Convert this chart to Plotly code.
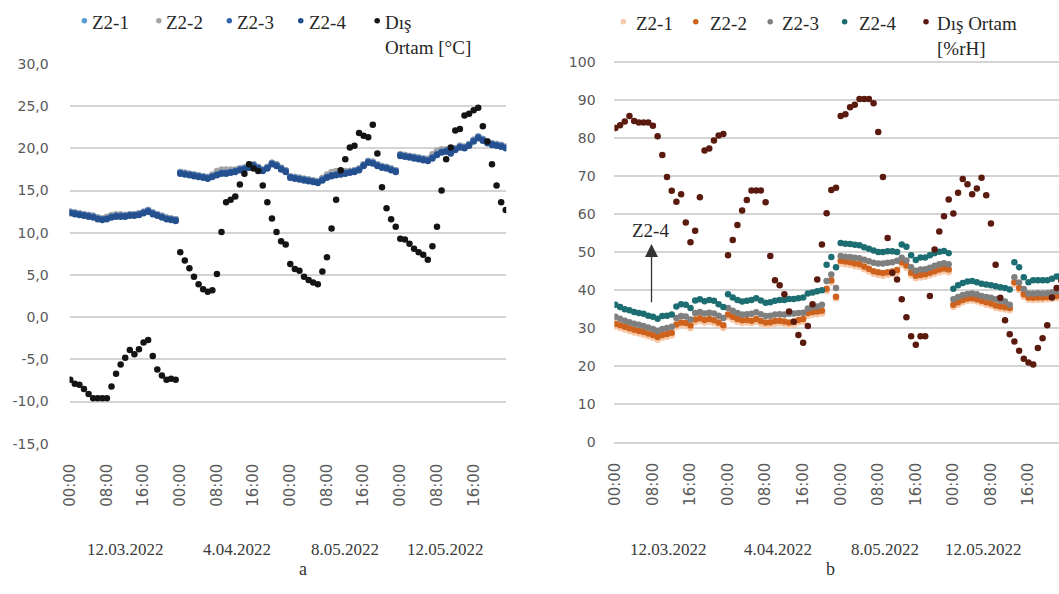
import plotly.graph_objects as go

W, H = 1059, 594

# ---- categories -------------------------------------------------------------
days = ["12.03.2022", "4.04.2022", "8.05.2022", "12.05.2022"]
hour_labels = ["00:00", "08:00", "16:00"]
hours = list(range(96))          # hourly samples, 24 per measurement day
zones = ["Z2-1", "Z2-2", "Z2-3", "Z2-4"]

# ---- (a) temperature, °C ------------------------------------------------------
temp_z21 = ([12.5, 12.4, 12.3, 12.2, 12.1, 12.0, 11.8, 11.7, 11.8, 12.0, 12.1, 12.1, 12.1, 12.2, 12.2, 12.3, 12.5, 12.7, 12.4, 12.2, 12.0, 11.8, 11.7, 11.6]
            + [17.2, 17.1, 17.0, 16.9, 16.8, 16.7, 16.6, 16.8, 17.0, 17.2, 17.2, 17.3, 17.4, 17.6, 17.7, 17.9, 18.1, 17.8, 17.5, 17.8, 18.3, 18.1, 17.7, 17.4]
            + [16.7, 16.6, 16.5, 16.4, 16.3, 16.2, 16.1, 16.4, 16.7, 16.9, 17.0, 17.1, 17.2, 17.3, 17.4, 17.6, 18.1, 18.5, 18.4, 18.1, 17.9, 17.8, 17.6, 17.4]
            + [19.3, 19.2, 19.1, 19.0, 18.9, 18.8, 18.7, 19.0, 19.4, 19.7, 19.8, 19.6, 20.0, 20.3, 20.2, 20.5, 21.0, 21.4, 21.1, 20.8, 20.6, 20.5, 20.4, 20.2])
temp_z22 = ([12.5, 12.4, 12.3, 12.2, 12.1, 12.0, 11.8, 11.7, 11.9, 12.1, 12.2, 12.2, 12.1, 12.2, 12.2, 12.3, 12.5, 12.7, 12.4, 12.2, 12.0, 11.8, 11.7, 11.6]
            + [17.2, 17.1, 17.0, 16.9, 16.8, 16.7, 16.6, 16.9, 17.3, 17.5, 17.5, 17.5, 17.5, 17.6, 17.7, 17.9, 18.1, 17.8, 17.5, 17.8, 18.3, 18.1, 17.7, 17.4]
            + [16.7, 16.6, 16.5, 16.4, 16.3, 16.2, 16.1, 16.5, 16.9, 17.2, 17.3, 17.3, 17.3, 17.3, 17.4, 17.6, 18.1, 18.5, 18.4, 18.1, 17.9, 17.8, 17.6, 17.4]
            + [19.3, 19.2, 19.1, 19.0, 18.9, 18.8, 18.8, 19.3, 19.7, 19.9, 19.9, 19.7, 20.0, 20.3, 20.2, 20.5, 21.0, 21.4, 21.1, 20.8, 20.6, 20.5, 20.4, 20.2])
temp_z23 = ([12.4, 12.3, 12.2, 12.1, 12.0, 11.9, 11.7, 11.6, 11.7, 11.9, 12.0, 12.0, 12.0, 12.1, 12.1, 12.2, 12.4, 12.6, 12.3, 12.1, 11.9, 11.7, 11.6, 11.5]
            + [17.1, 17.0, 16.9, 16.8, 16.7, 16.6, 16.5, 16.7, 16.9, 17.1, 17.1, 17.2, 17.3, 17.5, 17.6, 17.8, 18.0, 17.7, 17.4, 17.7, 18.2, 18.0, 17.6, 17.3]
            + [16.6, 16.5, 16.4, 16.3, 16.2, 16.1, 16.0, 16.3, 16.6, 16.8, 16.9, 17.0, 17.1, 17.2, 17.3, 17.5, 18.0, 18.4, 18.3, 18.0, 17.8, 17.7, 17.5, 17.3]
            + [19.2, 19.1, 19.0, 18.9, 18.8, 18.7, 18.6, 18.9, 19.3, 19.6, 19.7, 19.5, 19.9, 20.2, 20.1, 20.4, 20.9, 21.3, 21.0, 20.7, 20.5, 20.4, 20.3, 20.1])
temp_z24 = ([12.3, 12.2, 12.1, 12.0, 11.9, 11.8, 11.6, 11.5, 11.6, 11.8, 11.9, 11.9, 11.9, 12.0, 12.0, 12.1, 12.3, 12.5, 12.2, 12.0, 11.8, 11.6, 11.5, 11.4]
            + [17.0, 16.9, 16.8, 16.7, 16.6, 16.5, 16.4, 16.6, 16.8, 17.0, 17.0, 17.1, 17.2, 17.4, 17.5, 17.7, 17.9, 17.6, 17.3, 17.6, 18.1, 17.9, 17.5, 17.2]
            + [16.5, 16.4, 16.3, 16.2, 16.1, 16.0, 15.9, 16.2, 16.5, 16.7, 16.8, 16.9, 17.0, 17.1, 17.2, 17.4, 17.9, 18.3, 18.2, 17.9, 17.7, 17.6, 17.4, 17.2]
            + [19.1, 19.0, 18.9, 18.8, 18.7, 18.6, 18.5, 18.8, 19.2, 19.5, 19.6, 19.4, 19.8, 20.1, 20.0, 20.3, 20.8, 21.2, 20.9, 20.6, 20.4, 20.3, 20.2, 20.0])
temp_out = ([-7.4, -7.9, -8.0, -8.5, -9.1, -9.6, -9.6, -9.6, -9.6, -8.2, -6.7, -5.6, -4.8, -3.9, -4.4, -3.8, -3.0, -2.7, -4.6, -6.2, -6.9, -7.4, -7.3, -7.4]
            + [7.7, 6.7, 5.8, 4.8, 3.9, 3.3, 3.0, 3.2, 5.1, 10.1, 13.6, 13.9, 14.3, 15.7, 17.0, 18.1, 17.6, 17.3, 15.6, 13.6, 11.7, 10.1, 9.0, 8.6]
            + [6.3, 5.7, 5.5, 4.8, 4.4, 4.1, 3.9, 5.4, 7.1, 10.5, 13.9, 17.4, 18.7, 20.1, 20.3, 21.8, 21.5, 21.3, 22.8, 19.4, 15.4, 12.9, 11.6, 10.7]
            + [9.3, 9.2, 8.7, 8.1, 7.7, 7.4, 6.8, 8.4, 10.7, 15.0, 18.7, 20.1, 22.1, 22.3, 23.9, 24.1, 24.5, 24.8, 22.6, 20.8, 18.1, 15.6, 13.6, 12.7])
temp_ticks = [-15, -10, -5, 0, 5, 10, 15, 20, 25, 30]

# ---- (b) relative humidity, %rH ----------------------------------------------
rh_z21 = ([30.5, 30.1, 29.7, 29.3, 28.9, 28.6, 28.3, 27.9, 27.5, 27.0, 27.5, 27.8, 28.1, 30.3, 30.8, 30.7, 30.0, 31.6, 31.9, 31.5, 31.7, 31.4, 30.8, 30.1]
          + [32.9, 32.3, 31.7, 31.4, 31.5, 31.3, 31.7, 31.2, 30.8, 30.9, 31.2, 31.3, 31.1, 30.8, 31.0, 31.5, 31.7, 33.3, 33.6, 33.7, 33.9, 39.8, 42.0, 37.8]
          + [47.0, 46.8, 46.6, 46.3, 46.1, 45.5, 44.9, 44.3, 44.0, 43.8, 44.0, 44.2, 44.6, 46.6, 45.8, 43.9, 43.1, 43.3, 43.5, 43.9, 44.3, 44.7, 45.0, 44.7]
          + [35.6, 36.2, 36.8, 37.2, 37.3, 37.0, 36.6, 36.2, 35.9, 35.4, 35.1, 34.9, 34.7, 41.5, 40.0, 38.3, 37.5, 37.4, 37.5, 37.5, 37.6, 37.7, 37.9, 38.2])
rh_z22 = ([31.2, 30.8, 30.4, 30.0, 29.6, 29.3, 29.0, 28.6, 28.2, 27.7, 28.2, 28.5, 28.8, 31.0, 31.5, 31.4, 30.7, 32.3, 32.6, 32.2, 32.4, 32.1, 31.5, 30.8]
          + [33.6, 33.0, 32.4, 32.1, 32.2, 32.0, 32.4, 31.9, 31.5, 31.6, 31.9, 32.0, 31.8, 31.5, 31.7, 32.2, 32.4, 34.0, 34.3, 34.4, 34.6, 40.4, 42.6, 38.3]
          + [47.7, 47.5, 47.3, 47.0, 46.8, 46.2, 45.6, 45.0, 44.7, 44.5, 44.7, 44.9, 45.3, 47.3, 46.5, 44.6, 43.8, 44.0, 44.2, 44.6, 45.0, 45.4, 45.7, 45.4]
          + [36.2, 36.8, 37.4, 37.8, 37.9, 37.6, 37.2, 36.8, 36.5, 36.0, 35.7, 35.5, 35.3, 42.1, 40.6, 38.9, 38.1, 38.0, 38.1, 38.1, 38.2, 38.3, 38.5, 38.8])
rh_z23 = ([33.0, 32.5, 32.0, 31.6, 31.2, 30.9, 30.6, 30.2, 29.8, 29.3, 29.8, 30.1, 30.4, 32.7, 33.2, 33.1, 32.3, 34.0, 34.3, 33.9, 34.1, 33.9, 33.3, 32.7]
          + [35.3, 34.6, 34.0, 33.6, 33.7, 33.8, 34.2, 33.7, 33.2, 33.3, 33.6, 33.7, 33.6, 33.8, 33.9, 34.0, 34.1, 35.2, 35.5, 35.7, 36.2, 42.4, 44.1, 40.6]
          + [49.0, 48.8, 48.7, 48.5, 48.4, 48.0, 47.6, 47.2, 47.0, 47.0, 47.2, 47.3, 47.7, 48.5, 47.8, 46.0, 45.1, 45.4, 45.5, 45.9, 46.4, 46.8, 47.1, 46.8]
          + [37.6, 38.2, 38.7, 39.0, 39.1, 38.9, 38.5, 38.2, 38.0, 37.6, 37.2, 37.0, 36.2, 43.4, 42.0, 40.3, 39.1, 39.1, 39.2, 39.1, 39.2, 39.4, 39.7, 40.0])
rh_z24 = ([36.2, 35.6, 35.0, 34.7, 34.3, 34.0, 33.8, 33.3, 33.0, 32.5, 33.2, 33.3, 33.6, 35.7, 36.3, 36.2, 35.3, 37.3, 37.6, 37.1, 37.4, 37.2, 36.3, 35.6]
          + [38.9, 38.1, 37.4, 37.0, 37.2, 37.4, 37.9, 37.3, 36.7, 36.8, 37.2, 37.4, 37.4, 37.7, 37.7, 37.9, 38.1, 39.1, 39.4, 39.7, 40.0, 46.7, 48.7, 46.0]
          + [52.4, 52.2, 52.1, 51.9, 51.8, 51.3, 50.9, 50.4, 50.0, 50.0, 50.2, 50.2, 50.0, 52.0, 51.4, 49.2, 47.9, 48.6, 48.6, 49.2, 49.7, 50.1, 50.3, 49.7]
          + [40.4, 41.3, 41.9, 42.3, 42.4, 42.1, 41.7, 41.5, 41.3, 41.0, 40.8, 40.6, 40.2, 47.3, 46.0, 43.4, 42.1, 42.6, 42.6, 42.6, 42.6, 43.0, 43.6, 44.0])
rh_out = ([82.6, 83.3, 84.3, 85.7, 84.4, 84.0, 84.0, 84.0, 83.2, 80.4, 75.5, 69.7, 66.1, 63.2, 65.2, 57.8, 52.6, 55.6, 64.4, 76.7, 77.2, 79.3, 80.6, 81.0]
          + [49.2, 53.2, 57.1, 60.9, 63.7, 66.2, 66.2, 66.2, 63.1, 49.0, 42.6, 41.3, 38.9, 34.4, 31.7, 28.2, 26.2, 30.6, 36.3, 42.8, 52.0, 60.2, 66.3, 66.9]
          + [85.7, 86.2, 88.0, 88.7, 90.2, 90.2, 90.2, 89.1, 81.5, 69.7, 53.7, 44.6, 42.8, 37.6, 32.9, 27.9, 25.7, 27.9, 27.9, 38.5, 50.7, 55.4, 59.4, 63.8]
          + [60.1, 65.6, 69.2, 67.8, 65.2, 66.7, 69.5, 64.9, 57.5, 46.7, 38.0, 32.1, 28.4, 26.5, 24.1, 22.0, 21.0, 20.5, 24.8, 27.4, 30.8, 38.1, 40.6, 42.5])
rh_ticks = [0, 10, 20, 30, 40, 50, 60, 70, 80, 90, 100]

out_t_label = "Dış<br>Ortam [°C]"
out_rh_label = "Dış Ortam<br>[%rH]"

# ---- styling ------------------------------------------------------------------
temp_colors = ["#5b9bd5", "#a5a5a5", "#3366b0", "#24508f"]
temp_out_color = "#141414"
rh_colors = ["#f7c9a8", "#cf621c", "#7f7f7f", "#1d6e72"]
rh_out_color = "#5a1a0e"
MS = 6.5

SANS = "DejaVu Sans"
SERIF = "Liberation Serif"
tick_font = dict(family=SANS, size=14, color="#595959")
xtick_font = dict(family=SANS, size=15, color="#595959")
grid_col = "#d4d4d4"


def px_x(p):
    return p / W


def px_y(p):
    return 1 - p / H


fig = go.Figure()

for vals, col in zip([temp_z21, temp_z22, temp_z23, temp_z24], temp_colors):
    fig.add_trace(go.Scatter(x=hours, y=vals, mode="markers", xaxis="x", yaxis="y",
                             marker=dict(size=MS, color=col), hoverinfo="skip"))
fig.add_trace(go.Scatter(x=hours, y=temp_out, mode="markers", xaxis="x", yaxis="y",
                         marker=dict(size=MS, color=temp_out_color), hoverinfo="skip"))

for vals, col in zip([rh_z21, rh_z22, rh_z23, rh_z24], rh_colors):
    fig.add_trace(go.Scatter(x=hours, y=vals, mode="markers", xaxis="x2", yaxis="y2",
                             marker=dict(size=MS, color=col), hoverinfo="skip"))
fig.add_trace(go.Scatter(x=hours, y=rh_out, mode="markers", xaxis="x2", yaxis="y2",
                         marker=dict(size=MS, color=rh_out_color), hoverinfo="skip"))

xcommon = dict(tickvals=hours[::8], ticktext=hour_labels * len(days), tickangle=-90,
               showgrid=False, zeroline=False, showline=False, ticks="outside",
               ticklen=12, tickcolor="rgba(0,0,0,0)", tickfont=xtick_font, fixedrange=True)
ycommon = dict(showgrid=True, gridcolor=grid_col, gridwidth=1.6, zeroline=False,
               showline=False, ticks="outside", tickcolor="rgba(0,0,0,0)",
               tickfont=tick_font, fixedrange=True)

fig.update_layout(
    width=W, height=H,
    margin=dict(l=0, r=0, t=0, b=0),
    paper_bgcolor="white", plot_bgcolor="white",
    showlegend=False,
    xaxis=dict(domain=[px_x(62), px_x(502)], range=[-0.15, 95.1], anchor="y", **xcommon),
    yaxis=dict(domain=[px_y(448.2), px_y(57.4)], range=[-15.1, 30.1], anchor="x",
               tickvals=temp_ticks,
               ticktext=[f"{v:.1f}".replace(".", ",") for v in temp_ticks],
               ticklen=17, **ycommon),
    xaxis2=dict(domain=[px_x(611), 1.0], range=[-0.21, 94.5], anchor="y2", **xcommon),
    yaxis2=dict(domain=[px_y(447.2), px_y(54.8)], range=[-0.3, 100.3], anchor="x2",
                tickvals=rh_ticks, ticktext=[str(v) for v in rh_ticks],
                ticklen=15, **ycommon),
)

annotations = []
shapes = []

# day labels under the hour ticks
date_pos_a = [12.0, 36.4, 60.0, 81.9]
date_pos_b = [11.4, 34.7, 57.5, 78.4]
for xr, pos in (("x", date_pos_a), ("x2", date_pos_b)):
    for d, xv in zip(days, pos):
        annotations.append(dict(x=xv, xref=xr, y=px_y(556), yref="paper", text=d,
                                showarrow=False, xanchor="center", yanchor="middle",
                                font=dict(family=SERIF, size=17, color="#3a3a3a")))

# panel letters
for letter, xp in (("a", 297), ("b", 829)):
    annotations.append(dict(x=px_x(xp), y=px_y(576), xref="paper", yref="paper", text=letter,
                            showarrow=False, xanchor="center", yanchor="middle",
                            font=dict(family=SERIF, size=18, color="#333333")))


# legends: dot + label rows above each panel
def legend_row(names, colors, dot_x, text_x, y_mid):
    for name, col, dx, tx in zip(names, colors, dot_x, text_x):
        r = 2.8
        shapes.append(dict(type="circle", xref="paper", yref="paper",
                           x0=px_x(dx - r), x1=px_x(dx + r),
                           y0=px_y(y_mid + r), y1=px_y(y_mid - r),
                           fillcolor=col, line=dict(width=0)))
        annotations.append(dict(x=px_x(tx), y=px_y(y_mid - 11), xref="paper", yref="paper",
                                text=name, showarrow=False, xanchor="left", yanchor="top",
                                align="left",
                                font=dict(family=SERIF, size=19, color="#262626")))


legend_row(zones + [out_t_label], temp_colors + [temp_out_color],
           [77, 152, 223, 295, 372], [83, 157, 229, 301, 378], 14)
legend_row(zones + [out_rh_label], rh_colors + [rh_out_color],
           [620, 693, 768, 843, 925], [631, 705, 778, 855, 934], 15)

# arrow marking the Z2-4 humidity series
annotations.append(dict(x=7.7, y=52.1, xref="x2", yref="y2", ax=7.7, ay=34.2,
                        axref="x2", ayref="y2", text=" ", showarrow=True,
                        arrowhead=2, arrowsize=2.0, arrowwidth=1.3, arrowcolor="#333333"))
annotations.append(dict(x=7.4, y=52.4, xref="x2", yref="y2", text="Z2-4", showarrow=False,
                        xanchor="center", yanchor="bottom",
                        font=dict(family=SERIF, size=19, color="#262626")))

fig.update_layout(annotations=annotations, shapes=shapes)

fig.write_html("out.html")
